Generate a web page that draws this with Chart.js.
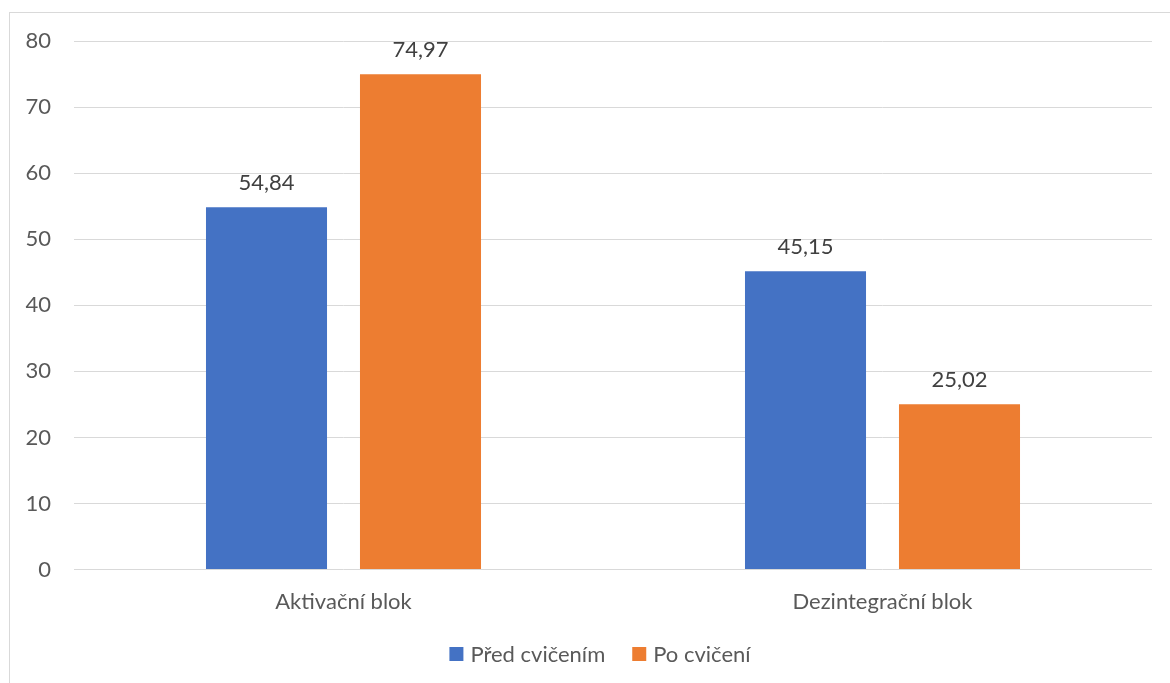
<!DOCTYPE html>
<html>
<head>
<meta charset="utf-8">
<script src="https://cdn.jsdelivr.net/npm/chart.js@4/dist/chart.umd.min.js"></script>
<style>
  html, body { margin: 0; padding: 0; background: #fff; }
  #wrap { width: 1170px; height: 683px; position: relative; }
</style>
</head>
<body>
<div id="wrap"><canvas id="c" width="1170" height="683"></canvas></div>
<script>
const categories = ['Aktivační blok', 'Dezintegrační blok'];
const seriesNames = ['Před cvičením', 'Po cvičení'];
const predCvicenim = [54.84, 45.15];
const poCviceni = [74.97, 25.02];
const yTicks = [0, 10, 20, 30, 40, 50, 60, 70, 80];

const BLUE = '#4472C4';
const ORANGE = '#ED7D31';
const TEXT = '#595959';
const GRID = '#d9d9d9';
const FONT = 'Lato, "Open Sans", "Liberation Sans", sans-serif';
const FS = 22;

// Light frame around the whole chart
const framePlugin = {
  id: 'frame',
  beforeDraw(chart) {
    const ctx = chart.ctx;
    ctx.save();
    ctx.fillStyle = '#fff';
    ctx.fillRect(0, 0, chart.width, chart.height);
    ctx.strokeStyle = GRID;
    ctx.lineWidth = 1;
    ctx.strokeRect(9.5, 12.5, chart.width + 20, chart.height + 20);
    ctx.restore();
  }
};

// Value labels above each bar, decimal comma
const valueLabels = {
  id: 'valueLabels',
  afterDatasetsDraw(chart) {
    const ctx = chart.ctx;
    ctx.save();
    ctx.font = FS + 'px ' + FONT;
    ctx.fillStyle = '#404040';
    ctx.textAlign = 'center';
    ctx.textBaseline = 'alphabetic';
    chart.data.datasets.forEach((ds, di) => {
      chart.getDatasetMeta(di).data.forEach((bar, i) => {
        const txt = ds.data[i].toFixed(2).replace('.', ',');
        ctx.fillText(txt, bar.x, bar.y - 17);
      });
    });
    ctx.restore();
  }
};

// Compact legend row under the category labels
const legendRow = {
  id: 'legendRow',
  afterDraw(chart) {
    const ctx = chart.ctx;
    const box = 14, gap = 7, spacing = 27, cx = 600, cy = 654;
    ctx.save();
    ctx.font = FS + 'px ' + FONT;
    ctx.textBaseline = 'middle';
    ctx.textAlign = 'left';
    const items = chart.data.datasets.map(ds => ({
      label: ds.label, color: ds.backgroundColor, w: ctx.measureText(ds.label).width
    }));
    const total = items.reduce((s, it) => s + box + gap + it.w, 0) + spacing * (items.length - 1);
    let x = cx - total / 2;
    items.forEach(it => {
      ctx.fillStyle = it.color;
      ctx.fillRect(x, cy - box / 2, box, box);
      ctx.fillStyle = TEXT;
      ctx.fillText(it.label, x + box + gap, cy + 1);
      x += box + gap + it.w + spacing;
    });
    ctx.restore();
  }
};

new Chart(document.getElementById('c'), {
  type: 'bar',
  data: {
    labels: categories,
    datasets: [
      { label: seriesNames[0], data: predCvicenim, backgroundColor: BLUE },
      { label: seriesNames[1], data: poCviceni, backgroundColor: ORANGE }
    ]
  },
  options: {
    responsive: false,
    animation: false,
    categoryPercentage: 0.5714,
    barPercentage: 0.786,
    layout: { padding: { left: 10, right: 18, top: 41, bottom: 49 } },
    plugins: {
      legend: { display: false },
      tooltip: { enabled: false }
    },
    scales: {
      x: {
        grid: { display: false, drawTicks: false },
        border: { display: false },
        ticks: { color: TEXT, font: { size: FS, family: FONT }, padding: 19 }
      },
      y: {
        min: 0, max: 80,
        afterBuildTicks(scale) { scale.ticks = yTicks.map(v => ({ value: v })); },
        afterFit(scale) { scale.width = 64; },
        grid: { color: GRID, drawTicks: false },
        border: { display: false },
        ticks: { color: TEXT, font: { size: FS, family: FONT }, padding: 23 }
      }
    }
  },
  plugins: [framePlugin, valueLabels, legendRow]
});
</script>
</body>
</html>
